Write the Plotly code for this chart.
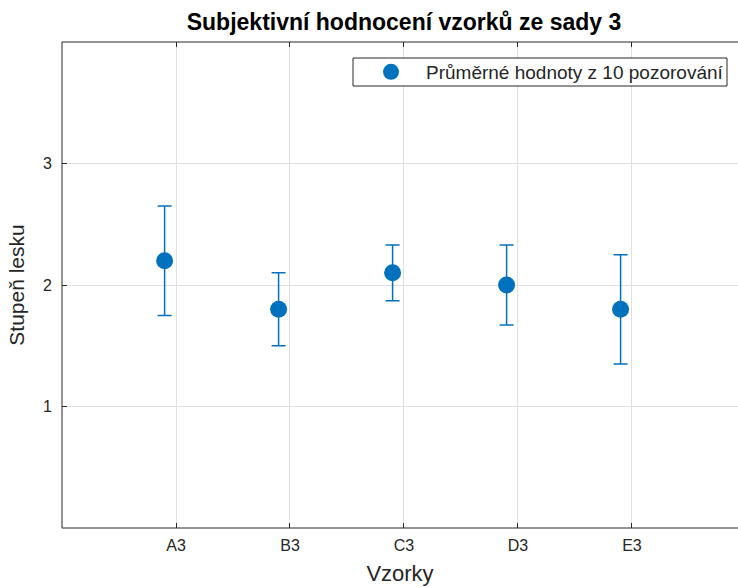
import numpy as np
import plotly.graph_objects as go

# Samples from set 3, mean gloss rating and error half-widths
samples = ["A3", "B3", "C3", "D3", "E3"]
means = [2.2, 1.8, 2.1, 2.0, 1.8]
errors = [0.45, 0.30, 0.23, 0.33, 0.45]

positions = np.arange(1, len(samples) + 1)
shift = -0.1  # points drawn slightly left of the category ticks

blue = "#0072BD"
axis_col = "#262626"
font = "Liberation Sans, Arial, Helvetica, sans-serif"

W, H = 738, 588
L, R, T, B = 62, 0, 42, 60
pw, ph = W - L - R, H - T - B

fig = go.Figure()
fig.add_trace(go.Scatter(
    x=positions + shift,
    y=means,
    mode="markers",
    name="Průměrné hodnoty z 10 pozorování",
    marker=dict(color=blue, size=17, line=dict(width=0)),
    error_y=dict(type="data", array=errors, color=blue, thickness=1.5, width=7),
))

# legend frame
fig.add_shape(
    type="rect", xref="paper", yref="paper",
    x0=(353 - L) / pw, x1=(727 - L) / pw,
    y0=1 - (86 - T) / ph, y1=1 - (58 - T) / ph,
    line=dict(color="#262626", width=1), fillcolor="white", layer="above",
)
# axes box: left, bottom and top edges (the right edge lies past the page)
for x0, x1, y0, y1 in [(0, 0, 0, 1), (0, 1, 0, 0), (0, 1, 1, 1)]:
    fig.add_shape(
        type="line", xref="paper", yref="paper",
        x0=x0, x1=x1, y0=y0, y1=y1,
        line=dict(color="#262626", width=1), layer="above",
    )

fig.update_layout(
    width=W,
    height=H,
    margin=dict(l=L, r=R, t=T, b=B),
    paper_bgcolor="white",
    plot_bgcolor="white",
    font=dict(family=font, color=axis_col, size=16),
    title=dict(
        text="<b>Subjektivní hodnocení vzorků ze sady 3</b>",
        x=(62 + 746) / 2 / W, xanchor="center",
        y=1 - 22 / H, yanchor="middle",
        font=dict(family=font, size=23, color="black"),
    ),
    showlegend=True,
    legend=dict(
        x=(356 - L) / pw, xanchor="left",
        y=1 - (72 - T) / ph, yanchor="middle",
        bgcolor="rgba(0,0,0,0)",
        borderwidth=0,
        itemwidth=60,
        font=dict(family=font, size=19, color=axis_col),
    ),
)

fig.update_xaxes(
    range=[0, 5.93],
    tickvals=positions,
    ticktext=samples,
    showgrid=True,
    gridcolor="#dfdfdf",
    gridwidth=1,
    zeroline=False,
    showline=False,
    mirror="ticks",
    ticks="inside",
    ticklen=5,
    tickcolor="#262626",
    ticklabelstandoff=6,
    tickfont=dict(size=16, color=axis_col),
    title=dict(text="Vzorky", font=dict(size=22, color=axis_col), standoff=12),
)

fig.update_yaxes(
    range=[0, 4],
    tickvals=[1, 2, 3],
    showgrid=True,
    gridcolor="#dfdfdf",
    gridwidth=1,
    zeroline=False,
    showline=False,
    ticks="inside",
    ticklen=5,
    tickcolor="#262626",
    ticklabelstandoff=9,
    tickfont=dict(size=16, color=axis_col),
    title=dict(text="Stupeň lesku", font=dict(size=21, color=axis_col), standoff=12),
)

fig.write_html("out.html")
